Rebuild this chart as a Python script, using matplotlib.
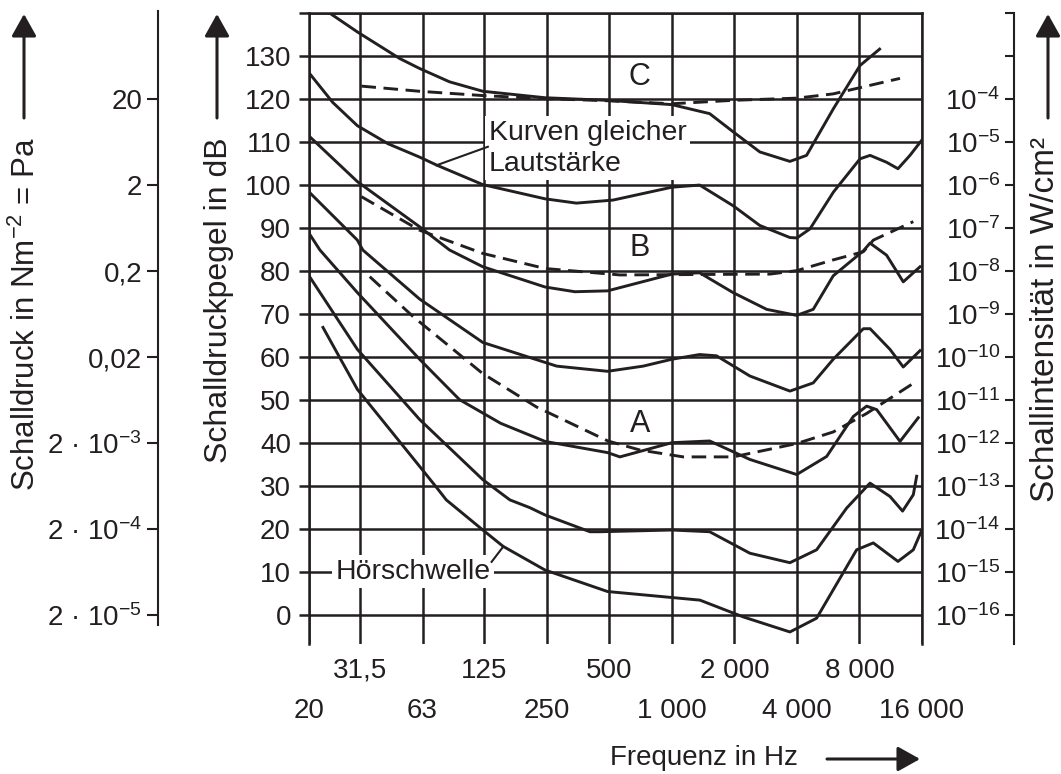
import matplotlib.pyplot as plt

plt.rcParams['font.family'] = ['Liberation Sans', 'DejaVu Sans']
plt.rcParams['mathtext.fontset'] = 'custom'
plt.rcParams['mathtext.rm'] = 'Liberation Sans'
plt.rcParams['mathtext.it'] = 'Liberation Sans:italic'

INK = '#231f20'

# Kurven gleicher Lautstärke (Frequenz in Hz / Schalldruckpegel in dB)
f_120 = [21.7, 30.6, 49, 61, 85, 123, 245, 490, 1000, 1520, 1970, 2650, 3700, 4450, 6000, 8050, 10000]
L_120 = [140.5, 135.6, 129.4, 127.1, 124.0, 121.8, 120.3, 119.7, 118.7, 116.6, 112.4, 107.7, 105.5, 106.9, 117.8, 127.8, 131.6]

f_100 = [17.9, 23.3, 30.6, 43, 61, 74, 123, 245, 347, 490, 520, 1000, 1360, 1970, 2650, 3700, 4000, 4620, 6000, 8050, 9000, 10800, 12260, 14000, 15940]
L_100 = [126.1, 119.2, 113.8, 109.6, 106.5, 104.6, 100.1, 96.8, 95.8, 96.4, 96.5, 99.5, 100.0, 95.2, 90.6, 87.8, 87.7, 89.8, 98.4, 106.1, 106.9, 105.3, 103.8, 106.9, 110.4]

f_80 = [17.9, 30.6, 61, 85, 123, 245, 341, 490, 1000, 1360, 1970, 2860, 3990, 4790, 5980, 8350, 8990, 10800, 13000, 15650]
L_80 = [111.4, 100.8, 90.3, 84.9, 81.0, 76.3, 75.2, 75.4, 79.3, 79.6, 75.0, 71.1, 69.7, 71.1, 78.9, 84.7, 86.5, 83.7, 77.5, 81.0]

f_60 = [17.9, 30.6, 32.5, 61, 123, 279, 490, 727, 1000, 1360, 1640, 2375, 3700, 4790, 5980, 8350, 9000, 11220, 13000, 15650]
L_60 = [98.4, 87.2, 84.9, 73.5, 63.4, 57.9, 56.7, 57.9, 59.5, 60.6, 60.3, 55.6, 52.1, 54.0, 59.5, 66.6, 66.6, 61.8, 57.7, 61.5]

f_40 = [17.9, 20.2, 30.6, 61, 95, 150, 245, 490, 562, 1000, 1520, 2375, 3990, 5560, 7470, 8660, 9680, 12540, 15350]
L_40 = [88.8, 84.9, 75.0, 59.5, 50.1, 44.6, 40.4, 37.8, 36.8, 40.1, 40.5, 36.2, 32.7, 36.9, 46.2, 48.6, 47.8, 40.4, 45.9]

f_20 = [17.9, 30.6, 61, 123, 166, 207, 245, 403, 450, 1000, 1520, 2375, 3700, 4975, 6940, 8990, 11220, 12900, 14530, 15080]
L_20 = [78.9, 61.8, 45.5, 31.5, 26.8, 25.0, 23.3, 19.4, 19.4, 19.8, 19.4, 14.4, 12.2, 15.2, 24.9, 30.7, 27.6, 24.2, 28.0, 32.3]

# Hörschwelle
f_hs = [20.9, 30.6, 61, 73.6, 82, 123, 154, 245, 490, 1364, 2205, 3700, 4975, 7750, 9325, 12260, 14530, 15940]
L_hs = [66.9, 52.5, 34.6, 29.7, 26.8, 19.8, 16.0, 10.5, 5.5, 3.5, -0.4, -3.9, -0.7, 15.2, 16.8, 12.5, 15.2, 19.7]

# Bewertungskurven A, B, C (gestrichelt)
f_A = [35.1, 56.8, 122.6, 223, 492, 701, 1134, 1974, 3986, 5983, 8664, 14530]
L_A = [78.7, 69.4, 56.2, 48.4, 40.5, 38.4, 36.8, 36.8, 39.9, 42.6, 46.9, 53.9]

f_B = [32, 61, 123, 245, 562, 2965, 3990, 5980, 8350, 9330, 14530]
L_B = [97.3, 89.5, 84.1, 80.6, 79.1, 79.3, 80.1, 82.6, 84.5, 87.2, 91.5]

f_C = [32, 61, 123, 245, 490, 1000, 1974, 3986, 5983, 8664, 12536]
L_C = [123.0, 121.8, 120.8, 120.1, 119.6, 118.9, 119.7, 120.2, 121.2, 123.0, 124.8]

# Achsen
f_min, f_max = 17.9, 16000
L_min, L_max = -6.7, 140
top_f = [31.5, 125, 500, 2000, 8000]
top_lab = ['31,5', '125', '500', '2 000', '8 000']
bot_f = [f_min, 63, 250, 1000, 4000, 16000]
bot_lab = ['20', '63', '250', '1 000', '4 000', '16 000']
db_ticks = list(range(0, 150, 10))
db_lab = [str(v) for v in range(0, 140, 10)] + ['']
p_ticks = [0, 20, 40, 60, 80, 100, 120]
p_lab = ['2 · 10$^{\\mathregular{-5}}$', '2 · 10$^{\\mathregular{-4}}$',
         '2 · 10$^{\\mathregular{-3}}$', '0,02', '0,2', '2', '20']
i_ticks = list(range(0, 150, 10))
i_lab = ['10$^{\\mathregular{%d}}$' % e for e in range(-16, -3)] + ['', '']

fig = plt.figure(figsize=(10.61, 7.74), dpi=100)
ax = fig.add_axes([309 / 1061, 130 / 774, 613 / 1061, 631 / 774])
ax.set_xscale('log')
ax.set_xlim(f_min, f_max)
ax.set_ylim(L_min, L_max)

lw_grid = 1.8
lw_curve = 2.1

for f, L in [(f_120, L_120), (f_100, L_100), (f_80, L_80), (f_60, L_60),
             (f_40, L_40), (f_20, L_20), (f_hs, L_hs)]:
    ax.plot(f, L, color=INK, lw=lw_curve, solid_joinstyle='round', zorder=3)
for f, L in [(f_A, L_A), (f_B, L_B), (f_C, L_C)]:
    ax.plot(f, L, color=INK, lw=lw_curve, dashes=(5, 2.6), zorder=3)

ax.set_xticks(top_f, top_lab)
ax.set_xticks(bot_f, bot_lab, minor=True)
ax.tick_params(axis='x', which='both', length=0, labelsize=20, colors=INK)
ax.tick_params(axis='x', which='major', pad=10)
ax.tick_params(axis='x', which='minor', pad=39)
ax.set_yticks(db_ticks, db_lab)
ax.tick_params(axis='y', direction='out', length=7, width=lw_grid, color=INK,
               labelsize=20, pad=6, labelcolor=INK)
ax.grid(True, which='both', axis='x', color=INK, lw=lw_grid)
ax.grid(True, which='major', axis='y', color=INK, lw=lw_grid)
ax.set_axisbelow(True)
for side in ['left', 'right', 'top']:
    ax.spines[side].set_color(INK)
    ax.spines[side].set_linewidth(lw_grid)
ax.spines['bottom'].set_visible(False)

# Schalldruck-Achse (links)
ax_p = ax.twinx()
ax_p.set_ylim(L_min, L_max)
ax_p.yaxis.tick_left()
for side in ['right', 'top', 'bottom']:
    ax_p.spines[side].set_visible(False)
ax_p.spines['left'].set_position(('axes', -0.2463))
ax_p.spines['left'].set_bounds(-2.3, 140.5)
ax_p.spines['left'].set_color(INK)
ax_p.spines['left'].set_linewidth(1.5)
ax_p.set_yticks(p_ticks, p_lab)
ax_p.tick_params(axis='y', direction='out', length=8, width=1.5, color=INK,
                 labelsize=20, pad=3.5, labelcolor=INK)

# Schallintensität-Achse (rechts), Striche nach links
ax_i = ax.twinx()
ax_i.set_ylim(L_min, L_max)
ax_i.yaxis.tick_left()
for side in ['right', 'top', 'bottom']:
    ax_i.spines[side].set_visible(False)
ax_i.spines['left'].set_position(('axes', 1.150))
ax_i.spines['left'].set_color(INK)
ax_i.spines['left'].set_linewidth(1.5)
ax_i.set_yticks(i_ticks, i_lab)
ax_i.tick_params(axis='y', direction='out', length=6.5, width=1.5, color=INK,
                 labelsize=20, pad=3.5, labelcolor=INK)

# Beschriftungen in der Grafik
ax.text(701, 125.1, 'C', fontsize=22, ha='center', va='center', color=INK)
ax.text(701, 85.3, 'B', fontsize=22, ha='center', va='center', color=INK)
ax.text(701, 44.4, 'A', fontsize=22, ha='center', va='center', color=INK)

box = dict(boxstyle='square,pad=0.12', fc='white', ec='none')
ax.text(131, 108.6, 'Kurven gleicher\nLautstärke', fontsize=20.5, ha='left', va='center',
        color=INK, linespacing=1.25, bbox=box, zorder=2)
ax.plot([73.6, 130], [104.6, 108.9], color=INK, lw=1.5, zorder=2.5)
ax.text(24, 10.1, 'Hörschwelle', fontsize=20.5, ha='left', va='center', color=INK,
        bbox=box, zorder=2)
ax.plot([135.5, 154], [12.4, 15.9], color=INK, lw=1.5, zorder=2.5)

# Achsentitel und Pfeile
H = 774
fig.text(26 / 1061, 1 - 137 / H, 'Schalldruck in Nm$^{\\mathregular{-2}}$ = Pa', rotation=90,
         ha='center', va='top', fontsize=22.5, color=INK)
fig.text(219 / 1061, 1 - 137 / H, 'Schalldruckpegel in dB', rotation=90,
         ha='center', va='top', fontsize=23, color=INK)
fig.text(1046 / 1061, 1 - 137 / H, 'Schallintensität in W/cm²', rotation=90,
         ha='center', va='top', fontsize=24, color=INK)
fig.text(610 / 1061, 1 - 758 / H, 'Frequenz in Hz', ha='left', va='center',
         fontsize=20, color=INK)

arrow = dict(arrowstyle='-|>,head_length=0.68,head_width=0.38', color=INK, lw=2.2,
             shrinkA=0, shrinkB=0, mutation_scale=20)
for x in [24, 217, 1048]:
    ax.annotate('', xy=(x, H - 14), xytext=(x, H - 118), xycoords='figure pixels',
                textcoords='figure pixels', arrowprops=arrow)
ax.annotate('', xy=(920, H - 759), xytext=(827, H - 759), xycoords='figure pixels',
            textcoords='figure pixels', arrowprops=arrow)

fig.savefig('out.png', dpi=100)
